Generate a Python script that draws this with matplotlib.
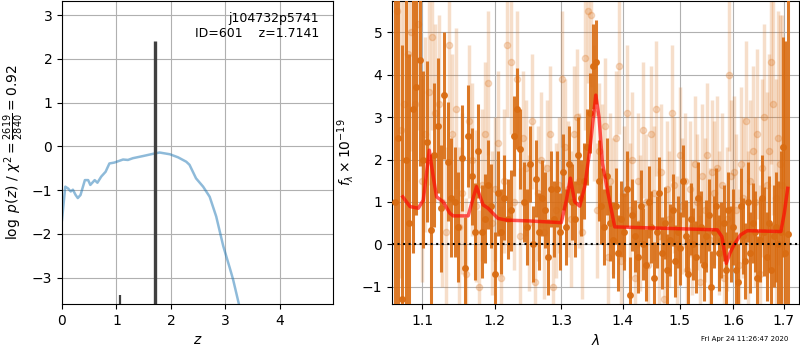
import matplotlib
matplotlib.use("Agg")
import matplotlib.pyplot as plt
import numpy as np
from matplotlib.ticker import NullLocator, FixedLocator, FixedFormatter

# ---------------- left panel: log p(z) ----------------
pz_z = [0.0, 0.06, 0.11, 0.16, 0.20, 0.25, 0.29, 0.34, 0.42, 0.48, 0.52, 0.60, 0.65,
        0.72, 0.80, 0.87, 0.96, 1.12, 1.21, 1.30, 1.49, 1.67, 1.79, 1.98, 2.13, 2.28,
        2.34, 2.46, 2.59, 2.71, 2.83, 2.96, 3.08, 3.14, 3.25]
pz_logp = [-1.68, -0.92, -0.96, -1.03, -0.99, -1.11, -1.18, -1.11, -0.77, -0.77, -0.88,
           -0.77, -0.83, -0.69, -0.58, -0.39, -0.37, -0.30, -0.31, -0.27, -0.22, -0.17,
           -0.14, -0.18, -0.25, -0.35, -0.42, -0.73, -0.92, -1.15, -1.60, -2.28, -2.78,
           -3.04, -3.62]
zbar_z = [1.06, 1.71]
zbar_top = [-3.4, 2.4]
zbar_lw = [1.6, 2.4]

# ---------------- right panel: spectrum ----------------
dark_wave0, dark_step = 1.064, 0.0047
dark_flux = [1.0, 2.5, -1.3, 2.0, 0.5, 3.2, 3.7, 4.35, 2.0, 2.42,
             0.34, 2.1, 2.8, 0.85, 3.52, 1.95, 1.1, 1.0, 0.4, 2.03,
             -0.55, 2.55, 1.6, 0.3, 2.2, 0.3, 0.6, 1.4, 0.9, -0.7,
             1.2, 0.3, 1.1, 0.6, 0.8, 2.55, 3.2, 2.25, 1.0, 0.4,
             1.9, 0.0, 1.55, 0.3, 1.1, 0.8, -0.3, 1.3, 0.6, 1.3,
             0.3, 1.7, 0.4, 1.9, 1.0, 0.6, 2.1, 1.1, 1.5, 2.3,
             3.1, 4.2, 4.3, 1.5, 0.9, 0.4, 1.6, 0.5, 0.1, 0.9,
             -0.2, 0.6, 0.3, 1.3, -1.2, 0.7, 0.2, -0.3, 0.9, 0.0,
             -0.5, 1.0, 0.4, -0.8, 0.3, 1.2, -0.2, 0.5, -0.6, 0.1,
             0.8, -0.4, 0.3, -0.1, 1.5, 0.2, -0.7, 0.6, 0.0, -0.3,
             1.1, 0.4, -0.5, 0.2, 0.7, -1.0, 0.3, 0.9, -0.2, 0.1,
             0.5, -0.6, 0.8, 0.0, 0.4, -0.6, -0.9, 0.9, 0.2, -0.4,
             1.0, -0.2, 0.5, 0.3, -0.8, 0.1, 1.1, 0.3, -0.3, 0.5,
             -0.6, 0.2, 0.4, 0.0, 0.3, 2.3, -0.2, 0.24]
dark_err = [8.0, 7.0, 6.0, 4.5, 4.0, 3.4, 3.0, 2.5, 2.1, 1.9,
            1.8, 1.7, 1.6, 1.5, 1.5, 1.4, 1.4, 1.3, 1.3, 1.25,
            1.2, 1.2, 1.15, 1.15, 1.1, 1.1, 1.05, 1.05, 1.0, 1.0,
            1.0, 1.0, 1.0, 0.95, 0.95, 0.95, 0.95, 0.95, 0.95, 0.9,
            0.9, 0.9, 0.9, 0.9, 0.9, 0.9, 0.9, 0.9, 0.9, 0.9,
            0.9, 0.9, 0.9, 0.9, 0.9, 0.9, 0.9, 0.9, 0.9, 0.9,
            0.95, 1.0, 1.0, 0.95, 0.9, 0.9, 0.9, 0.9, 0.9, 0.9,
            0.9, 0.9, 0.9, 0.9, 0.9, 0.85, 0.85, 0.85, 0.85, 0.85,
            0.85, 0.85, 0.85, 0.85, 0.85, 0.85, 0.85, 0.85, 0.85, 0.85,
            0.85, 0.85, 0.85, 0.85, 0.85, 0.85, 0.85, 0.85, 0.85, 0.85,
            0.85, 0.85, 0.85, 0.85, 0.85, 0.85, 0.85, 0.9, 0.9, 0.9,
            0.9, 0.9, 0.9, 0.9, 0.9, 0.9, 0.9, 0.9, 0.9, 0.9,
            0.95, 0.95, 0.95, 0.95, 1.0, 1.0, 1.0, 1.05, 1.05, 1.1,
            1.1, 1.2, 1.3, 1.5, 1.9, 2.6, 5.0, 7.0]

light_wave0, light_step = 1.067, 0.0046
light_flux = [5.5, 2.7, 3.3, 4.5, 5.0, 3.3, 5.2, 1.5,
              2.6, 3.6, 4.9, 3.1, 3.3, 1.0, 0.3, 4.7, 2.6, 3.2, 0.4, 1.2,
              -0.7, 2.9, 2.0, 0.9, -1.0, 1.4, 2.6, 3.8, 0.5, 1.3,
              2.4, -0.8, 1.5, 4.7, 4.3, 1.0, 3.9, 0.2, 2.5, 1.8, 0.5, 2.9,
              -0.9, 1.2, 2.0, 0.3, 1.8, 2.6, -1.0, 0.8, 1.4,
              3.9, 2.3, 1.3, 0.6, 2.6, 3.0, 1.5, 0.3, 4.4, 5.5, 5.4, 3.1,
              0.8, 2.2, 1.7, 2.8,
              -0.3, 1.5, 0.9, 2.5, 4.2, -0.4, 1.2, 3.1, 0.8, 2.0, -0.8, 1.5,
              0.5, 2.7, 1.0, -0.5, 2.6, 1.2, 3.2, 0.2, 1.7, -1.3, 1.3, 0.6,
              3.1, 1.4, 0.0, 2.1, 0.9, 1.5, -0.6, 1.3, 0.4, 1.9, 1.0, -0.9,
              1.6, 0.8, 2.1, 0.1, 1.7, 1.2, 1.8, 0.5, 1.4, -0.8, 0.6,
              4.0, 1.6, 1.7, 0.8, -0.5, 1.9, 1.1, 2.9, 0.3, 1.5, 2.2, 1.0,
              2.6, -0.7, 1.8, 3.0, 1.4, 2.2, 4.3, 3.3, 1.1, 2.5, 1.9, 1.4]
light_err = [4.0, 3.5, 3.2, 3.0, 2.8, 2.6, 2.5, 2.4,
             2.3, 2.2, 2.2, 2.1, 2.1, 2.0, 2.0, 2.0, 1.9, 1.9, 1.9, 1.9,
             1.8, 1.8, 1.8, 1.8, 1.8, 1.8, 1.7, 1.7, 1.7, 1.7,
             1.7, 1.7, 1.7, 1.7, 1.7, 1.6, 1.6, 1.6, 1.6, 1.6, 1.6, 1.6,
             1.6, 1.6, 1.6, 1.6, 1.6, 1.6, 1.6, 1.6, 1.6,
             1.6, 1.6, 1.6, 1.6, 1.6, 1.6, 1.6, 1.6, 1.7, 1.7, 1.7, 1.6,
             1.6, 1.6, 1.6, 1.6,
             1.6, 1.6, 1.6, 1.6, 1.6, 1.6, 1.6, 1.6, 1.6, 1.6, 1.6, 1.6,
             1.6, 1.6, 1.6, 1.6, 1.6, 1.6, 1.6, 1.6, 1.6, 1.6, 1.6, 1.6,
             1.6, 1.6, 1.6, 1.6, 1.6, 1.6, 1.6, 1.6, 1.6, 1.6, 1.6, 1.6,
             1.7, 1.7, 1.7, 1.7, 1.7, 1.7, 1.7, 1.7, 1.7, 1.7, 1.7,
             1.8, 1.8, 1.8, 1.8, 1.8, 1.8, 1.9, 1.9, 1.9, 1.9, 2.0, 2.0,
             2.0, 2.1, 2.1, 2.2, 2.2, 2.3, 2.4, 2.6, 2.8, 3.0, 3.5, 4.0]

model_wave = [1.0744, 1.0838, 1.0947, 1.1013, 1.1093, 1.1146, 1.1191, 1.1280, 1.1372,
              1.1417, 1.1625, 1.1686, 1.1742, 1.1835, 1.1906, 1.2049, 1.2171, 1.2518,
              1.3004, 1.3084, 1.3147, 1.3216, 1.3296, 1.3377, 1.3458, 1.3556, 1.3609,
              1.3665, 1.3757, 1.3869, 1.4633, 1.5693, 1.5778, 1.5863, 1.5932, 1.6000,
              1.6135, 1.6270, 1.6940, 1.7010, 1.7080]
model_flux = [1.12, 0.89, 0.85, 1.04, 2.22, 1.59, 1.12, 1.00, 0.73,
              0.67, 0.67, 1.04, 1.36, 0.93, 0.85, 0.61, 0.57, 0.55,
              0.51, 1.04, 1.56, 1.00, 0.90, 1.36, 2.22, 3.52, 3.00,
              1.91, 1.20, 0.41, 0.38, 0.34, 0.18, -0.45, -0.21, -0.04,
              0.22, 0.32, 0.30, 0.73, 1.32]

xticks = [1.1, 1.2, 1.3, 1.4, 1.5, 1.6, 1.7]
xticklabels = ["1.1", "1.2", "1.3", "1.4", "1.5", "1.6", "1.7"]

orange = "#d96c12"

fig = plt.figure(figsize=(8, 3.5), dpi=100)
ax1 = fig.add_axes([0.0775, 0.1314, 0.3385, 0.8657])
ax2 = fig.add_axes([0.49, 0.1314, 0.5085, 0.8657])

# left
ax1.plot(pz_z, pz_logp, color="tab:blue", alpha=0.5, lw=1.8)
ax1.vlines(zbar_z, -3.6, zbar_top, colors="0.25", lw=zbar_lw)
ax1.set_xlim(0, 4.97)
ax1.set_ylim(-3.6, 3.32)
ax1.set_xticks([0, 1, 2, 3, 4])
ax1.set_yticks([-3, -2, -1, 0, 1, 2, 3])
ax1.grid(True)
ax1.set_axisbelow(True)
ax1.set_xlabel(r"$z$")
ax1.set_ylabel(r"$\log\ p(z)$ / $\chi^2=\frac{2619}{2840}=0.92$")
ax1.text(0.95, 0.965, "j104732p5741\nID=601    z=1.7141", transform=ax1.transAxes,
         ha="right", va="top", fontsize=9, linespacing=1.2)

# right
dw = dark_wave0 + dark_step * np.arange(len(dark_flux))
lw_ = light_wave0 + light_step * np.arange(len(light_flux))
ax2.errorbar(lw_, light_flux, yerr=light_err, color=orange, alpha=0.22, marker="o",
             ms=4.5, ls="none", elinewidth=2.5, capsize=0, zorder=2)
ax2.errorbar(dw, dark_flux, yerr=dark_err, color=orange, alpha=0.9, marker="o",
             ms=4, ls="none", elinewidth=2.2, capsize=0, zorder=3)
ax2.plot(model_wave, model_flux, color="red", alpha=0.65, lw=2.5, zorder=4)
ax2.axhline(0, color="k", ls=":", lw=1.5, zorder=5)
ax2.set_xscale("log")
ax2.set_xlim(1.0606, 1.731)
ax2.set_ylim(-1.41, 5.74)
ax2.xaxis.set_major_locator(FixedLocator(xticks))
ax2.xaxis.set_major_formatter(FixedFormatter(xticklabels))
ax2.xaxis.set_minor_locator(NullLocator())
ax2.set_yticks([-1, 0, 1, 2, 3, 4, 5])
ax2.grid(True)
ax2.set_axisbelow(True)
ax2.set_xlabel(r"$\lambda$")
ax2.set_ylabel(r"$f_\lambda\times10^{-19}$")

fig.text(0.985, 0.03, "Fri Apr 24 11:26:47 2020", ha="right", va="center", fontsize=5)

fig.savefig("out.png", dpi=100)
